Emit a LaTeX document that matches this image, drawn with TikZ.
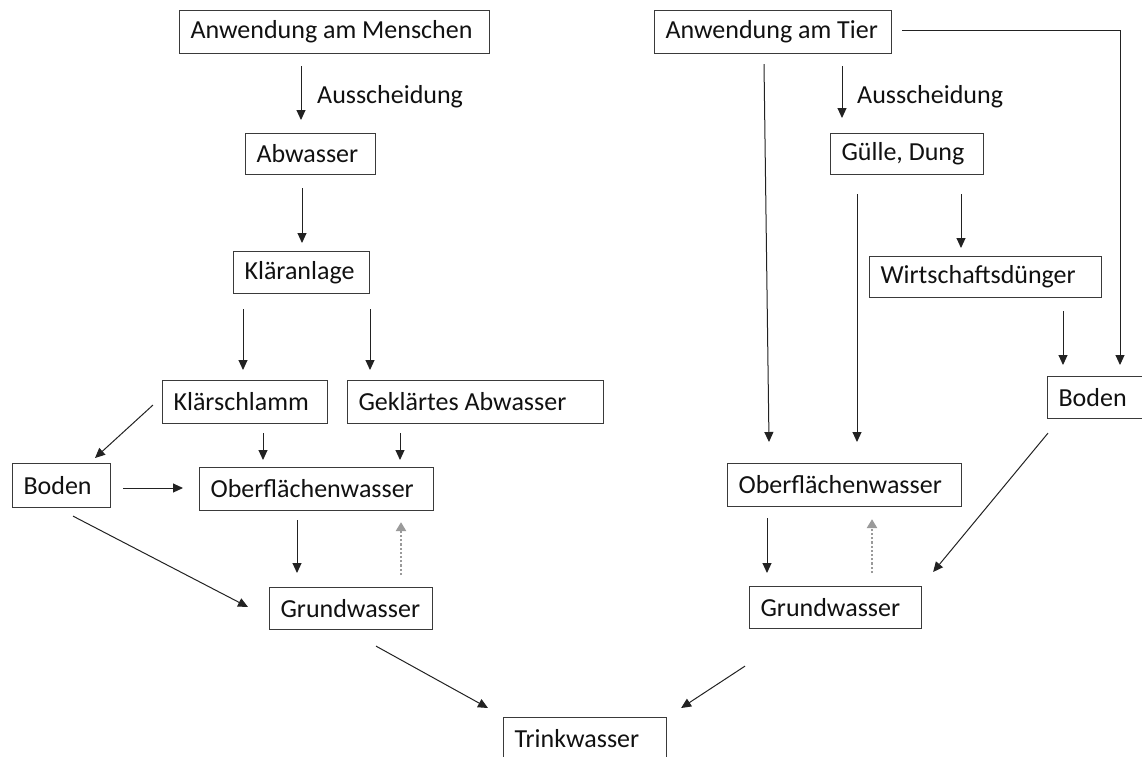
\documentclass[tikz,border=0pt]{standalone}
\usepackage{fontspec}
\setmainfont{Carlito}
\usetikzlibrary{arrows.meta,calc}
\definecolor{boxgray}{HTML}{3A3A3A}
\definecolor{linegray}{HTML}{222222}
\definecolor{dotgray}{HTML}{9A9A9A}
\definecolor{txt}{HTML}{111111}
\newcommand{\bx}[2]{\makebox[#1pt][l]{#2}}
\begin{document}
\begin{tikzpicture}[x=1pt,y=-1pt,
  box/.style={draw=boxgray, text=txt, line width=1.1pt, inner xsep=11pt, inner ysep=0pt,
    anchor=north west, font=\fontsize{26}{31}\selectfont},
  lbl/.style={anchor=west, text=txt, inner sep=0pt, font=\fontsize{26}{31}\selectfont},
  arr/.style={draw=linegray, line width=1pt, -{Triangle[length=10pt,width=9pt]}},
  dotarr/.style={draw=dotgray, line width=2.8pt, dash pattern=on 2.2pt off 2pt,
    -{Triangle[length=9pt,width=10pt]}}
]
\useasboundingbox (0,0) rectangle (1142,756);
% left branch
\node[box, minimum height=43pt] (hum) at (179,10) {\bx{288}{Anwendung am Menschen}};
\node[box, minimum height=41pt] (abw) at (245,133) {\bx{108}{Abwasser}};
\node[box, minimum height=42pt] (kla) at (233,251) {\bx{114}{Kläranlage}};
\node[box, minimum height=43pt] (ksl) at (162,380) {\bx{143}{Klärschlamm}};
\node[box, minimum height=43pt] (gab) at (347,380) {\bx{234}{Geklärtes Abwasser}};
\node[box, minimum height=44pt] (bodL) at (12,463) {\bx{76}{Boden}};
\node[box, minimum height=43pt] (oflL) at (199,467) {\bx{212}{Oberflächenwasser}};
\node[box, minimum height=42pt] (grL) at (269,587) {\bx{141}{Grundwasser}};
\node[box, minimum height=42pt] (trk) at (503,717) {\bx{141}{Trinkwasser}};
% right branch
\node[box, minimum height=43pt] (tier) at (654,10) {\bx{215}{Anwendung am Tier}};
\node[box, minimum height=41pt] (gul) at (830,133) {\bx{131}{Gülle, Dung}};
\node[box, minimum height=41pt] (wds) at (869,256) {\bx{210}{Wirtschaftsdünger}};
\node[box, minimum height=42pt] (bodR) at (1047,376) {\bx{76}{Boden}};
\node[box, minimum height=43pt] (oflR) at (727,463) {\bx{212}{Oberflächenwasser}};
\node[box, minimum height=42pt] (grR) at (749,586) {\bx{150}{Grundwasser}};
% labels
\node[lbl] (ausL) at (317,97) {Ausscheidung};
\node[lbl] (ausR) at (857,97) {Ausscheidung};
% left arrows
\draw[arr, shorten <=12pt, shorten >=13pt] (hum.south -| 301,0) -- (abw.north -| 301,0);
\draw[arr, shorten <=13pt, shorten >=8pt] (abw.south -| 302,0) -- (kla.north -| 302,0);
\draw[arr, shorten <=15pt, shorten >=10pt] (kla.south -| 243,0) -- (ksl.north -| 243,0);
\draw[arr, shorten <=15pt, shorten >=10pt] (kla.south -| 370,0) -- (gab.north -| 370,0);
\draw[arr] ($(ksl.north west)+(-9,25)$) -- ($(bodL.north west)+(83,-5)$);
\draw[arr, shorten <=9pt, shorten >=7pt] (ksl.south -| 263,0) -- (oflL.north -| 263,0);
\draw[arr, shorten <=9pt, shorten >=7pt] (gab.south -| 400,0) -- (oflL.north -| 400,0);
\draw[arr, shorten <=12pt, shorten >=16pt] (bodL.east |- 0,488) -- (oflL.west |- 0,488);
\draw[arr, shorten <=9pt, shorten >=14pt] (oflL.south -| 297,0) -- (grL.north -| 297,0);
\draw[dotarr, shorten <=12pt, shorten >=11pt] (grL.north -| 401,0) -- (oflL.south -| 401,0);
\draw[arr] ($(bodL.south west)+(61,8)$) -- ($(grL.north west)+(-21,20)$);
\draw[arr] ($(grL.south west)+(107,16)$) -- ($(trk.north west)+(-15,-9)$);
% right arrows
\draw[arr, shorten <=12pt, shorten >=15pt] (tier.south -| 842,0) -- (gul.north -| 842,0);
\draw[arr, shorten <=10pt, shorten >=11pt] (tier.east |- 0,30) -| (bodR.north -| 1120,0);
\draw[arr] ($(tier.south west)+(110,10)$) -- ($(oflR.north west)+(42,-21)$);
\draw[arr, shorten <=19pt, shorten >=21pt] (gul.south -| 857,0) -- (oflR.north -| 857,0);
\draw[arr, shorten <=19pt, shorten >=8pt] (gul.south -| 961,0) -- (wds.north -| 961,0);
\draw[arr, shorten <=13pt, shorten >=11pt] (wds.south -| 1063,0) -- (bodR.north -| 1063,0);
\draw[arr] ($(bodR.south west)+(1,14)$) -- ($(grR.north east)+(11,-14)$);
\draw[arr, shorten <=11pt, shorten >=13pt] (oflR.south -| 767,0) -- (grR.north -| 767,0);
\draw[dotarr, shorten <=13pt, shorten >=12pt] (grR.north -| 872,0) -- (oflR.south -| 872,0);
\draw[arr] ($(grR.south west)+(-4,37)$) -- ($(trk.north east)+(14,-9)$);
\end{tikzpicture}
\end{document}
